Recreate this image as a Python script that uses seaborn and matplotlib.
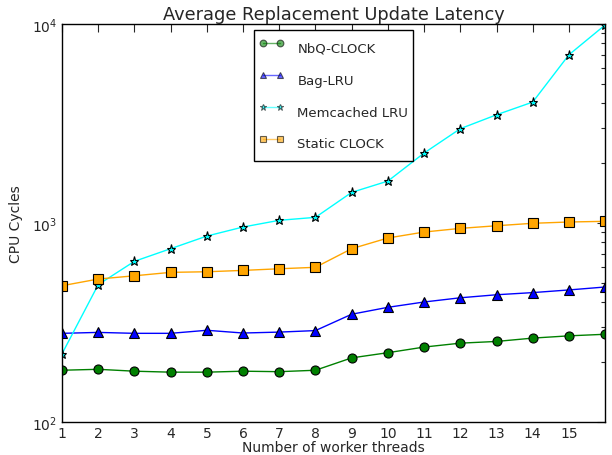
import matplotlib
matplotlib.use("Agg")
import matplotlib.pyplot as plt
import seaborn as sns
import pandas as pd
import numpy as np

threads = list(range(1, 17))
nbq_clock = [182, 184, 180, 178, 178, 180, 179, 182, 210, 223, 238, 249, 254, 264, 271, 276]
bag_lru = [279, 282, 279, 279, 289, 280, 283, 288, 348, 377, 401, 421, 436, 447, 461, 477]
memcached_lru = [220, 490, 642, 743, 860, 955, 1032, 1068, 1426, 1625, 2248, 2980, 3500, 4055, 7010, 9900]
static_clock = [484, 523, 543, 565, 569, 578, 589, 599, 743, 841, 901, 940, 969, 997, 1012, 1020]
xtick_labels = [str(i) for i in range(1, 16)] + [""]

sns.set_style("white")
plt.rcParams['font.family'] = ['DejaVu Sans']

fig = plt.figure(figsize=(6.12, 4.56), dpi=100)
ax = fig.add_axes([0.1013, 0.0724, 0.8875, 0.8726])

series = [
    ("NbQ-CLOCK", nbq_clock, "green", "o", 6.5),
    ("Bag-LRU", bag_lru, "blue", "^", 6.5),
    ("Memcached LRU", memcached_lru, "cyan", "*", 6.5),
    ("Static CLOCK", static_clock, "orange", "s", 6.5),
]
for name, vals, col, mk, ms in series:
    df = pd.DataFrame({"x": threads, "y": vals})
    sns.lineplot(data=df, x="x", y="y", ax=ax, color=col, marker=mk, markersize=ms,
                 markeredgecolor="black", markeredgewidth=0.8, linewidth=1.0, label=name)

ax.set_yscale("log")
ax.set_ylim(100, 10000)
ax.set_xlim(1, 16)
ax.set_xticks(threads)
ax.set_xticklabels(xtick_labels)
ax.tick_params(axis="both", which="both", direction="in", top=True, right=True, labelsize=10)
ax.tick_params(axis="both", which="major", length=6, width=0.8)
ax.tick_params(axis="both", which="minor", length=3, width=0.8)
ax.tick_params(axis="x", pad=3)
for s in ax.spines.values():
    s.set_color("black")
    s.set_linewidth(1.0)
ax.set_title("Average Replacement Update Latency", fontsize=12.8, pad=4)
ax.set_xlabel("Number of worker threads", fontsize=10, labelpad=0)
ax.set_ylabel("CPU Cycles", fontsize=10, labelpad=6)

leg = ax.legend(loc="upper center", bbox_to_anchor=(0.5, 1.0), fontsize=9.5, labelspacing=0.55,
                borderpad=0.4, handlelength=1.9, handleheight=2.5, handletextpad=1.0,
                markerscale=0.75, numpoints=2,
                fancybox=False, framealpha=1, edgecolor="black", borderaxespad=0.45)
leg.get_frame().set_linewidth(1.0)
for h in leg.legend_handles:
    h.set_alpha(0.6)

fig.savefig("out.png", dpi=100)
